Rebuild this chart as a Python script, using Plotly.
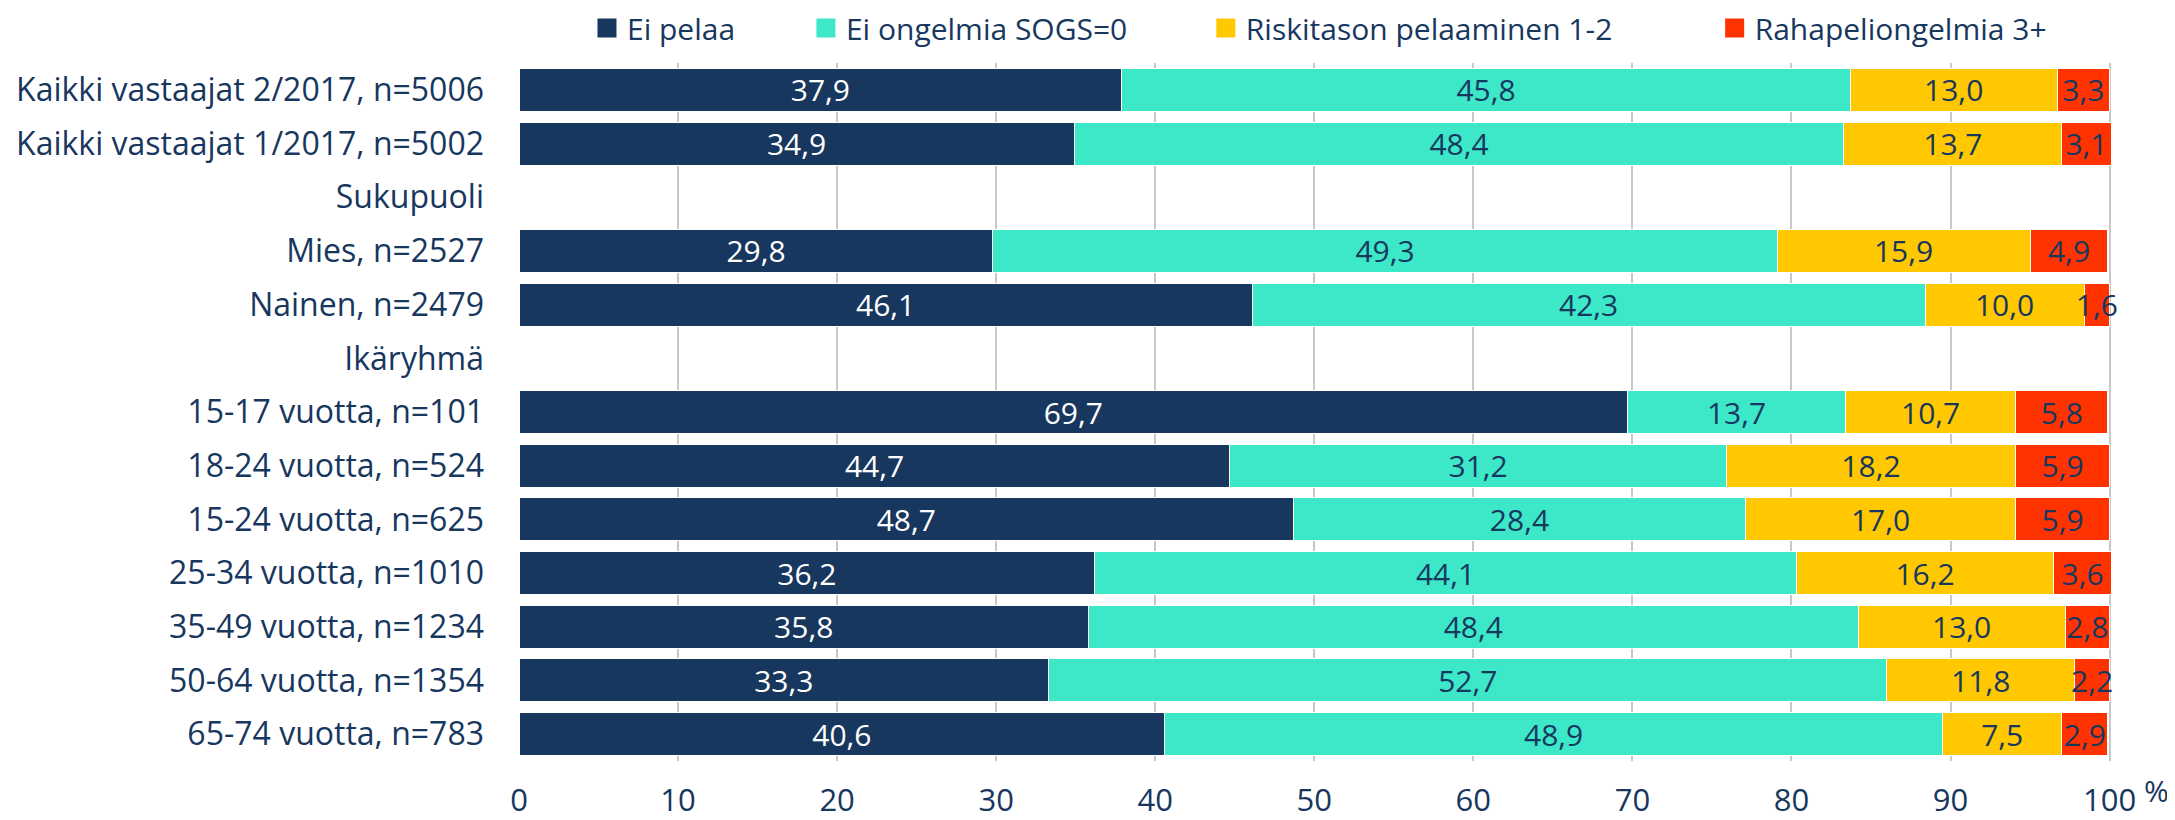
import plotly.graph_objects as go

categories = [
    "Kaikki vastaajat 2/2017, n=5006",
    "Kaikki vastaajat 1/2017, n=5002",
    "Sukupuoli",
    "Mies, n=2527",
    "Nainen, n=2479",
    "Ikäryhmä",
    "15-17 vuotta, n=101",
    "18-24 vuotta, n=524",
    "15-24 vuotta, n=625",
    "25-34 vuotta, n=1010",
    "35-49 vuotta, n=1234",
    "50-64 vuotta, n=1354",
    "65-74 vuotta, n=783",
]
ei_pelaa = [37.9, 34.9, None, 29.8, 46.1, None, 69.7, 44.7, 48.7, 36.2, 35.8, 33.3, 40.6]
ei_ongelmia = [45.8, 48.4, None, 49.3, 42.3, None, 13.7, 31.2, 28.4, 44.1, 48.4, 52.7, 48.9]
riskitaso = [13.0, 13.7, None, 15.9, 10.0, None, 10.7, 18.2, 17.0, 16.2, 13.0, 11.8, 7.5]
ongelmia = [3.3, 3.1, None, 4.9, 1.6, None, 5.8, 5.9, 5.9, 3.6, 2.8, 2.2, 2.9]

series_names = ["Ei pelaa", "Ei ongelmia SOGS=0", "Riskitason pelaaminen 1-2", "Rahapeliongelmia 3+"]
series_values = [ei_pelaa, ei_ongelmia, riskitaso, ongelmia]
x_ticks = [0, 10, 20, 30, 40, 50, 60, 70, 80, 90, 100]

colors = ["#17375E", "#3DE8C9", "#FFC800", "#FF3300"]
text_colors = ["#FFFFFF", "#17375E", "#17375E", "#17375E"]
NAVY = "#17375E"
FONT = "Open Sans"

# the page body has an 8px margin, so the figure is drawn 8px in from the window corner
OFF = 8
W, H = 2175 - OFF, 820 - OFF
X0_PX, X100_PX = 519, 2110          # window px of x=0 and x=100
X_MAX = 101.6                         # a little room past 100 so small labels are not clipped
px_per_unit = (X100_PX - X0_PX) / 100
L = X0_PX - OFF
R = 2175 - (X0_PX + X_MAX * px_per_unit)
T, B = 63 - OFF, 59
plot_w = W - L - R
plot_h = H - T - B

# legend square centre positions (window px)
legend_px = [607, 826, 1226, 1735]
legend_py = 28

fig = go.Figure()
for i, (name, vals) in enumerate(zip(series_names, series_values)):
    fig.add_trace(go.Bar(
        y=categories, x=vals, name=name, orientation="h",
        marker=dict(color=colors[i], line=dict(color="#FFFFFF", width=1)),
        texttemplate="%{x:.1f}", textposition="inside", insidetextanchor="middle",
        textangle=0, constraintext="none",
        textfont=dict(family=FONT, size=30, color=text_colors[i]),
        hoverinfo="skip", showlegend=False,
    ))

# legend entries with larger square symbols
layout_legends = {}
for i, (name, px) in enumerate(zip(series_names, legend_px)):
    key = "legend" if i == 0 else f"legend{i+1}"
    fig.add_trace(go.Scatter(
        x=[None], y=[None], mode="markers", name=name,
        marker=dict(symbol="square", size=16, color=colors[i],
                    line=dict(color=colors[i], width=3)),
        hoverinfo="skip", showlegend=True, legend=key,
    ))
    layout_legends[key] = dict(
        x=(px - OFF - 20 - L) / plot_w, xanchor="left",
        y=1 + (T - (legend_py - OFF)) / plot_h, yanchor="middle",
        orientation="h", bgcolor="rgba(0,0,0,0)",
        font=dict(family=FONT, size=30, color=NAVY),
        itemclick=False, itemdoubleclick=False,
    )

fig.update_layout(
    width=W, height=H,
    margin=dict(l=L, r=R, t=T, b=B, pad=0, autoexpand=False),
    barmode="stack", bargap=0.2,
    separators=", ",
    plot_bgcolor="#FFFFFF", paper_bgcolor="#FFFFFF",
    font=dict(family=FONT, color=NAVY),
    showlegend=True,
    **layout_legends,
)
fig.update_xaxes(
    range=[0, X_MAX], tickvals=x_ticks, ticktext=[str(v) for v in x_ticks],
    showgrid=True, gridcolor="#C8C8C8", gridwidth=1.5, zeroline=False,
    showline=False, ticks="", ticklabelstandoff=18,
    tickfont=dict(family=FONT, size=31, color=NAVY),
    fixedrange=True,
)
fig.update_yaxes(
    autorange="reversed", showgrid=False, zeroline=False,
    showline=False, ticks="", ticklabelstandoff=34,
    tickfont=dict(family=FONT, size=32, color=NAVY),
    fixedrange=True,
)
fig.add_annotation(
    text="%", xref="paper", yref="paper",
    x=(2157 - X0_PX) / plot_w, y=-(790 - 761) / plot_h,
    showarrow=False, xanchor="center", yanchor="middle",
    font=dict(family=FONT, size=30, color=NAVY),
)

fig.write_html("out.html")
